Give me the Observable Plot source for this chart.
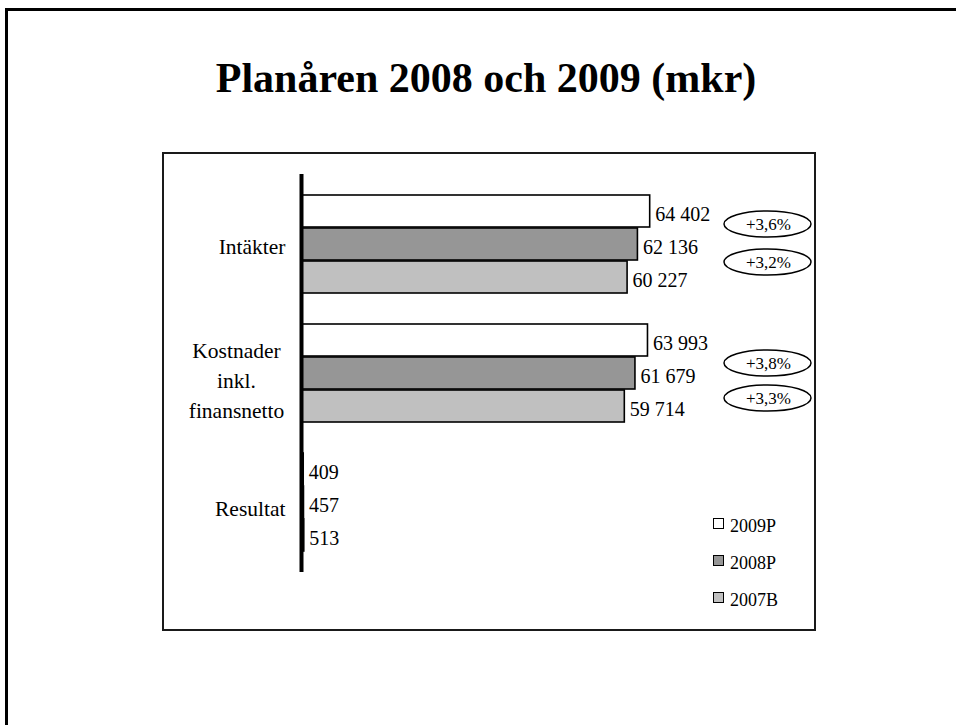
<!DOCTYPE html>
<html>
<head>
<meta charset="utf-8">
<script src="https://cdn.jsdelivr.net/npm/d3@7"></script>
<script src="https://cdn.jsdelivr.net/npm/@observablehq/plot@0.6"></script>
<style>
  html, body { margin: 0; padding: 0; background: #ffffff; }
  #page { position: relative; width: 956px; height: 725px; overflow: hidden; background: #ffffff;
          font-family: "Liberation Serif", "Times New Roman", serif; color: #000; }
  #outer { position: absolute; left: 5px; top: 8px; width: 1100px; height: 900px; border: 3px solid #000; box-sizing: border-box; }
  #title { position: absolute; left: 0; top: 57px; width: 972px; text-align: center; font-weight: bold;
           font-size: 42px; line-height: 42px; white-space: nowrap; }
  #inner { position: absolute; left: 162px; top: 152px; width: 654px; height: 479px; border: 2px solid #1a1a1a; box-sizing: border-box; }
  #chart { position: absolute; left: 0; top: 0; }
  #legend { position: absolute; left: 713px; top: 513px; font-size: 18px; }
  .lg-item { position: absolute; left: 0; white-space: nowrap; height: 26px; line-height: 26px; }
  .lg-sw { position: absolute; left: 0; top: 5px; width: 11px; height: 11px; border: 1.5px solid #000; box-sizing: border-box; }
  .lg-tx { position: absolute; left: 17px; top: 0; }
</style>
</head>
<body>
<div id="page">
  <div id="outer"></div>
  <div id="inner"></div>
  <div id="title">Planåren 2008 och 2009 (mkr)</div>
  <div id="chart"></div>
  <div id="legend"></div>
</div>
<script>
// ---- Data ----
const categories = ["Intäkter", "Kostnader\ninkl.\nfinansnetto", "Resultat"];
const series = ["2009P", "2008P", "2007B"];
const values2009P = [64402, 63993, 409];
const values2008P = [62136, 61679, 457];
const values2007B = [60227, 59714, 513];
const seriesColors = ["#ffffff", "#969696", "#c0c0c0"];
const changeCategories = ["Intäkter", "Intäkter", "Kostnader\ninkl.\nfinansnetto", "Kostnader\ninkl.\nfinansnetto"];
const changeLabels = ["+3,6%", "+3,2%", "+3,8%", "+3,3%"];

// ---- Build table ----
const seriesValues = [values2009P, values2008P, values2007B];
const rows = [];
series.forEach((s, i) => categories.forEach((c, j) => rows.push({category: c, series: s, si: i, value: seriesValues[i][j]})));
const annotations = changeLabels.map((t, i) => ({category: changeCategories[i], label: t}));

const fmt = d3.formatLocale({decimal: ",", thousands: " ", grouping: [3], currency: ["", ""]}).format(",d");
const font = "'Liberation Serif', 'Times New Roman', serif";
const SUB = 33; // height of one series bar within a category band
const annoDy = [-20.5, 17.5, -10.5, 24.5];

const ellipse = {
  draw(ctx) {
    const rx = 43.5, ry = 13, k = 0.5523;
    ctx.moveTo(rx, 0);
    ctx.bezierCurveTo(rx, ry * k, rx * k, ry, 0, ry);
    ctx.bezierCurveTo(-rx * k, ry, -rx, ry * k, -rx, 0);
    ctx.bezierCurveTo(-rx, -ry * k, -rx * k, -ry, 0, -ry);
    ctx.bezierCurveTo(rx * k, -ry, rx, -ry * k, rx, 0);
    ctx.closePath();
  }
};

const marks = [];
series.forEach((s, i) => {
  const data = rows.filter(d => d.series === s);
  marks.push(Plot.barX(data, {
    x: "value", y: "category",
    fill: seriesColors[i], stroke: "#000", strokeWidth: 1.6,
    insetTop: i * SUB, insetBottom: (2 - i) * SUB
  }));
  marks.push(Plot.text(data, {
    x: "value", y: "category", text: d => fmt(d.value),
    textAnchor: "start", dx: 5, dy: (i - 1) * SUB + 3, fontSize: 20, fill: "#000"
  }));
});
// category labels
marks.push(Plot.text(["Intäkter"], {
  y: d => d, text: d => d, frameAnchor: "left", textAnchor: "end", dx: -16, dy: 3, fontSize: 21.5, fill: "#000"
}));
marks.push(Plot.text(["Resultat"], {
  y: d => d, text: d => d, frameAnchor: "left", textAnchor: "end", dx: -16, dy: 7, fontSize: 21.5, fill: "#000"
}));
marks.push(Plot.text(categories.filter(c => c.includes("\n")), {
  y: d => d, text: d => d, frameAnchor: "left", textAnchor: "middle", dx: -65, dy: 5, lineHeight: 1.38, fontSize: 21.5, fill: "#000"
}));
// axis line
marks.push(Plot.ruleX([0], {stroke: "#000", strokeWidth: 4}));
// change annotations
annotations.forEach((a, i) => {
  marks.push(Plot.dot([a], {y: "category", frameAnchor: "right", dx: 87, dy: annoDy[i], symbol: ellipse, r: 5, stroke: "#000", strokeWidth: 1.5, fill: "#fff"}));
  marks.push(Plot.text([a], {y: "category", text: "label", frameAnchor: "right", textAnchor: "middle", dx: 88, dy: annoDy[i] + 1, fontSize: 17, fill: "#000"}));
});

const chart = Plot.plot({
  width: 956, height: 725,
  marginTop: 174, marginBottom: 153, marginLeft: 301, marginRight: 276,
  style: {background: "transparent", fontFamily: font, color: "#000", overflow: "visible"},
  x: {domain: [0, 70000], axis: null},
  y: {domain: categories, paddingInner: 0.238, paddingOuter: 0.154, axis: null},
  marks
});
document.getElementById("chart").appendChild(chart);

// legend
const lg = document.getElementById("legend");
series.forEach((s, i) => {
  const item = document.createElement("div");
  item.className = "lg-item";
  item.style.top = (i * 37) + "px";
  const sw = document.createElement("div");
  sw.className = "lg-sw";
  sw.style.background = seriesColors[i];
  const tx = document.createElement("div");
  tx.className = "lg-tx";
  tx.textContent = s;
  item.appendChild(sw); item.appendChild(tx);
  lg.appendChild(item);
});
</script>
</body>
</html>
